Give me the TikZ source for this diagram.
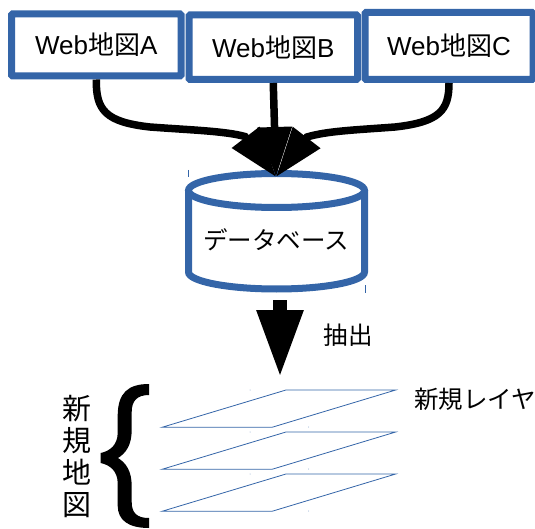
\documentclass[tikz,border=0pt]{standalone}
\usepackage{fontspec}
\usetikzlibrary{arrows.meta}
\setmainfont{Liberation Sans}
\newfontfamily\cjk{Noto Sans CJK JP}

\tikzset{
  mapbox/.style={draw=boxblue, line width=7pt, rounded corners=1pt, inner sep=0pt, fill=white,
    font=\fontsize{26}{30}\selectfont},
  dbline/.style={draw=boxblue, line width=7pt},
  feed/.style={line width=7.5pt, -{Triangle[length=50pt,width=33pt]}},
  extract/.style={line width=14.5pt, -{Triangle[length=68pt,width=43pt]}},
  layer/.style={draw=boxblue, line width=0.8pt, line join=miter},
  jptext/.style={font=\cjk\fontsize{24.5}{28}\selectfont, inner sep=0pt},
  tick/.style={draw=boxblue, line width=0.6pt},
  speck/.style={fill=boxblue!60, inner sep=0pt, minimum size=1pt, shape=circle}
}

\begin{document}
\begin{tikzpicture}[x=1pt, y=-1pt]

  % Colors: frame blue
  \definecolor{boxblue}{RGB}{52,101,168}

  \useasboundingbox (0,0) rectangle (535,529);

  % --- Top row: source maps ---
  \node[mapbox, minimum width=169.5pt, minimum height=62pt] (mapA) at (96.25,45) {Web{\cjk 地図}A};
  \node[mapbox, minimum width=168.5pt, minimum height=64.5pt] (mapB) at (273.25,47.25) {Web{\cjk 地図}B};
  \node[mapbox, minimum width=168pt, minimum height=67pt] (mapC) at (449,46) {Web{\cjk 地図}C};

  % --- Database ---
  \draw[dbline] (276.5,190.5) ellipse (88pt and 17pt);
  \draw[dbline] (188.5,190.5) -- (188.5,272) arc (180:360:88pt and 17pt) -- (364.5,190.5);
  \node[jptext] (dbtext) at (276,240) {データベース};
  \coordinate (dbTip) at (276,177);

  % selection ticks
  \draw[tick] (188,170) -- (188,177);
  \draw[tick] (365,285) -- (365,293);

  % --- Converging arrows ---
  \draw[feed] (mapA.south) .. controls (96,110) and (105,122) .. (150,127)
    .. controls (190,130) and (225,131) .. (245,136.5) -- (dbTip);
  \draw[feed] (mapC.south) .. controls (449,110) and (440,122) .. (395,127)
    .. controls (355,130) and (327,131) .. (307,137) -- (dbTip);
  \draw[feed] (mapB.south) -- (dbTip);

  % --- Extraction arrow ---
  \coordinate (extractTop) at (280,300);
  \coordinate (extractTip) at (280,378);
  \draw[extract] (extractTop) -- (extractTip);
  \node[jptext] (extractText) at (348,335) {抽出};

  % --- Three layers ---
  \foreach \dy/\nm in {0/a,42/b,84/c} {
    \draw[layer] (162,427.3+\dy) -- (286,390+\dy) -- (395.7,390+\dy) -- (272,427.3+\dy) -- cycle;
    \node[speck] (top\nm) at (250,390+\dy) {};
    \node[speck] (bot\nm) at (308.7,427+\dy) {};
  }
  \node[jptext] (layerText) at (475,399) {新規レイヤ};

  % --- Brace and vertical label ---
  \fill (149,384) .. controls (128,384) and (118,393) .. (117.7,415)
    -- (117.7,433) .. controls (117.5,445) and (110,451) .. (100.7,453)
    -- (100.7,463) .. controls (110,465) and (117.5,471) .. (117.7,483)
    -- (117.7,506) .. controls (118,520) and (128,528) .. (149,528)
    -- (149,518) .. controls (137,518) and (131.7,513) .. (131.7,502)
    -- (131.7,486) .. controls (131.7,471) and (126,463) .. (118,458)
    .. controls (126,453) and (131.7,445) .. (131.7,430)
    -- (131.7,412) .. controls (131.7,401) and (137,395) .. (149,395) -- cycle;
  \node[font=\cjk\fontsize{29}{32}\selectfont, align=center, inner sep=0pt] (newMap) at (76.7,456.5) {新\\規\\地\\図};

\end{tikzpicture}
\end{document}
